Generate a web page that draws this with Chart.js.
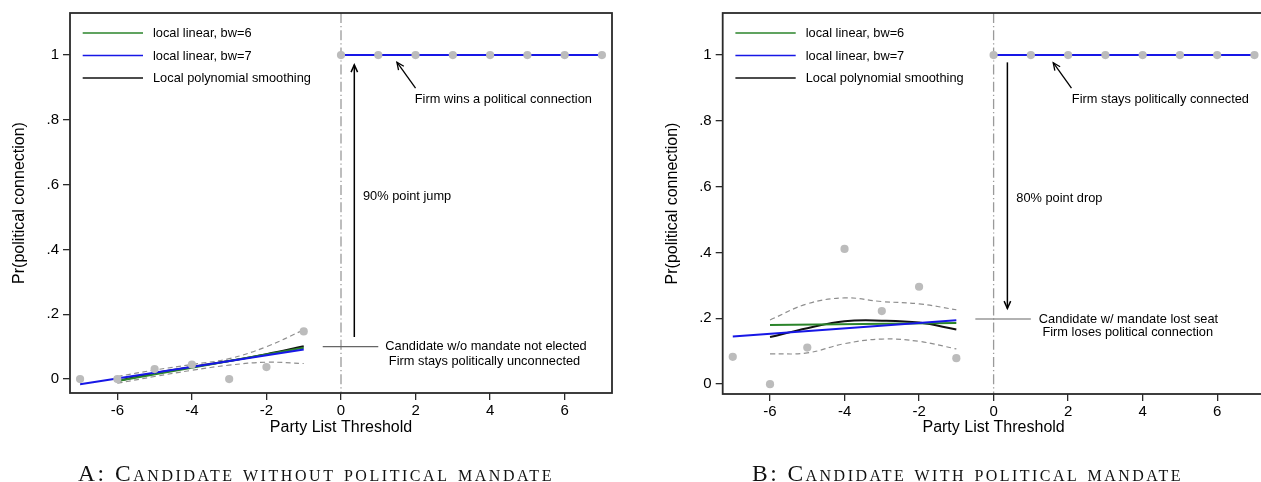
<!DOCTYPE html>
<html><head><meta charset="utf-8">
<script src="https://cdn.jsdelivr.net/npm/chart.js@4.4.0/dist/chart.umd.min.js"></script>
<style>
html,body{margin:0;padding:0;background:#fff;overflow:hidden;width:1261px;height:482px;}
#wrap{position:relative;width:1261px;height:482px;overflow:hidden;background:#fff;}
.panel{position:absolute;top:0;width:640px;height:482px;}
.cap{position:absolute;font-family:"Liberation Serif","DejaVu Serif",serif;font-variant:small-caps;font-size:23.5px;line-height:22px;color:#111;white-space:nowrap;top:462px;}
</style></head><body>
<div id="wrap">
<div class="panel" style="left:0"><canvas id="cA" width="640" height="482"></canvas></div>
<div class="panel" style="left:640px"><canvas id="cB" width="640" height="482"></canvas></div>
<div class="cap" id="capA" style="left:78px">A: Candidate without political mandate</div>
<div class="cap" id="capB" style="left:752px">B: Candidate with political mandate</div>
</div>
<script>
// ---------- data ----------
const xTicks = [-6, -4, -2, 0, 2, 4, 6];
const yTicks = [0, 0.2, 0.4, 0.6, 0.8, 1];
const yTickLabels = ['0', '.2', '.4', '.6', '.8', '1'];
const threshold = 0;
const seriesLabels = ['local linear, bw=6', 'local linear, bw=7', 'Local polynomial smoothing'];

const binsBelow = [-7, -6, -5, -4, -3, -2, -1];
const binsAbove = [0, 1, 2, 3, 4, 5, 6, 7];
const fitBelowX = [-6, -5, -4, -3, -2, -1];
const bw7X = [-7, -1];
const bw6X = [-6, -1];
const fitAboveX = [0, 7];

// Panel A: candidate without political mandate
const A_meanBelow = [0, 0, 0.031, 0.045, 0, 0.037, 0.147];
const A_meanAbove = [1, 1, 1, 1, 1, 1, 1, 1];
const A_bw6 = [-0.006, 0.097];
const A_bw7 = [-0.016, 0.091];
const A_poly = [-0.006, 0.018, 0.037, 0.056, 0.077, 0.101];
const A_ciHigh = [0.008, 0.028, 0.045, 0.063, 0.100, 0.152];
const A_ciLow = [-0.013, 0.008, 0.027, 0.043, 0.052, 0.048];
const A_fitAbove = [1, 1];

// Panel B: candidate with political mandate
const B_meanBelow = [0.083, 0, 0.111, 0.411, 0.222, 0.296, 0.079];
const B_meanAbove = [1, 1, 1, 1, 1, 1, 1, 1];
const B_bw6 = [0.180, 0.186];
const B_bw7 = [0.145, 0.194];
const B_poly = [0.143, 0.170, 0.191, 0.193, 0.187, 0.166];
const B_ciHigh = [0.195, 0.244, 0.262, 0.251, 0.244, 0.226];
const B_ciLow = [0.092, 0.095, 0.123, 0.137, 0.130, 0.107];
const B_fitAbove = [1, 1];

// annotations (data units)
const A_notes = {
  bigArrow: {x: 0.357, from: 0.13, to: 0.97},
  bigText: {x: 0.59, y: 0.565, text: '90% point jump'},
  marker: {y: 0.1, x0: -0.49, x1: 1.0},
  markerText: [{x: 3.89, y: 0.1, text: 'Candidate w/o mandate not elected'},
               {x: 3.85, y: 0.053, text: 'Firm stays politically unconnected'}],
  topArrow: {x0: 2.0, y0: 0.898, x1: 1.5, y1: 0.978},
  topText: {x: 1.98, y: 0.864, text: 'Firm wins a political connection'}
};
const B_notes = {
  bigArrow: {x: 0.37, from: 0.978, to: 0.23},
  bigText: {x: 0.61, y: 0.563, text: '80% point drop'},
  marker: {y: 0.198, x0: -0.49, x1: 1.0},
  markerText: [{x: 3.62, y: 0.198, text: 'Candidate w/ mandate lost seat'},
               {x: 3.60, y: 0.157, text: 'Firm loses political connection'}],
  topArrow: {x0: 2.09, y0: 0.9, x1: 1.6, y1: 0.977},
  topText: {x: 2.1, y: 0.866, text: 'Firm stays politically connected'}
};

// ---------- styling ----------
const FAM = '"Liberation Sans", Arial, sans-serif';
Chart.defaults.font.family = FAM;
const GREEN = '#2b842b', BLUE = '#1717e6', BLACK = '#111111', CI = '#8e8e8e', DOT = '#bcbcbc';

const pts = (xs, ys) => xs.map((x, i) => ({x, y: ys[i]}));

function arrowHead(ctx, x0, y0, x1, y1, len) {
  const a = Math.atan2(y1 - y0, x1 - x0), s = 0.42;
  ctx.beginPath();
  ctx.moveTo(x1 - len * Math.cos(a - s), y1 - len * Math.sin(a - s));
  ctx.lineTo(x1, y1);
  ctx.lineTo(x1 - len * Math.cos(a + s), y1 - len * Math.sin(a + s));
  ctx.stroke();
}

const panelPlugin = {
  id: 'panelDecor',
  beforeDatasetsDraw(chart) {
    const {ctx, chartArea: a, scales: {x}} = chart;
    const px = x.getPixelForValue(threshold);
    ctx.save();
    ctx.strokeStyle = '#9a9a9a'; ctx.lineWidth = 1.3; ctx.setLineDash([10, 3, 1.2, 3]);
    ctx.beginPath(); ctx.moveTo(px, a.top); ctx.lineTo(px, a.bottom); ctx.stroke();
    ctx.restore();
  },
  afterDraw(chart) {
    const {ctx, chartArea: a, scales: {x, y}} = chart;
    const n = chart.options.plugins.panelDecor.notes;
    ctx.save();
    // frame
    ctx.strokeStyle = '#2a2a2a'; ctx.lineWidth = 1.8;
    ctx.strokeRect(a.left, a.top, a.right - a.left, a.bottom - a.top);
    // legend
    const ds = chart.data.datasets;
    const legendItems = [ds[2], ds[3], ds[4]];
    const rows = [20, 42.5, 65];
    ctx.font = '12.8px ' + FAM; ctx.textBaseline = 'middle'; ctx.textAlign = 'left';
    legendItems.forEach((d, i) => {
      const yy = a.top + rows[i];
      ctx.strokeStyle = d.borderColor; ctx.lineWidth = 1.6;
      ctx.beginPath(); ctx.moveTo(a.left + 12.7, yy); ctx.lineTo(a.left + 73, yy); ctx.stroke();
      ctx.fillStyle = '#000'; ctx.fillText(d.label, a.left + 83, yy + 0.5);
    });
    // marker line
    ctx.strokeStyle = '#666'; ctx.lineWidth = 1.2;
    const my = y.getPixelForValue(n.marker.y);
    ctx.beginPath(); ctx.moveTo(x.getPixelForValue(n.marker.x0), my); ctx.lineTo(x.getPixelForValue(n.marker.x1), my); ctx.stroke();
    // big arrow
    ctx.strokeStyle = '#000'; ctx.lineWidth = 1.5;
    const bx = x.getPixelForValue(n.bigArrow.x), by0 = y.getPixelForValue(n.bigArrow.from), by1 = y.getPixelForValue(n.bigArrow.to);
    ctx.beginPath(); ctx.moveTo(bx, by0); ctx.lineTo(bx, by1); ctx.stroke();
    arrowHead(ctx, bx, by0, bx, by1, 8);
    // top arrow
    ctx.lineWidth = 1.3;
    const t = n.topArrow;
    const tx0 = x.getPixelForValue(t.x0), ty0 = y.getPixelForValue(t.y0), tx1 = x.getPixelForValue(t.x1), ty1 = y.getPixelForValue(t.y1);
    ctx.beginPath(); ctx.moveTo(tx0, ty0); ctx.lineTo(tx1, ty1); ctx.stroke();
    arrowHead(ctx, tx0, ty0, tx1, ty1, 8);
    // texts
    ctx.fillStyle = '#000'; ctx.font = '12.8px ' + FAM; ctx.textBaseline = 'middle';
    ctx.textAlign = 'left';
    ctx.fillText(n.bigText.text, x.getPixelForValue(n.bigText.x), y.getPixelForValue(n.bigText.y));
    ctx.fillText(n.topText.text, x.getPixelForValue(n.topText.x), y.getPixelForValue(n.topText.y));
    ctx.textAlign = 'center';
    n.markerText.forEach(m => ctx.fillText(m.text, x.getPixelForValue(m.x), y.getPixelForValue(m.y)));
    ctx.restore();
  }
};

function makePanel(id, d, pad, yMin, yMax) {
  const chartBottom = 482 - pad.bottom - 50;
  const datasets = [
    {label: 'bins below', data: pts(binsBelow, d.meanBelow), order: 0},
    {label: 'bins above', data: pts(binsAbove, d.meanAbove), order: 0},
    {label: seriesLabels[0], data: pts(bw6X, d.bw6), showLine: true, borderColor: GREEN, borderWidth: 2, order: 3},
    {label: seriesLabels[1], data: pts(bw7X, d.bw7), showLine: true, borderColor: BLUE, borderWidth: 2, order: 2},
    {label: seriesLabels[2], data: pts(fitBelowX, d.poly), showLine: true, borderColor: BLACK, borderWidth: 2, tension: 0.4, order: 4},
    {label: 'ci high', data: pts(fitBelowX, d.ciHigh), showLine: true, borderColor: CI, borderWidth: 1.2, borderDash: [5, 3.5], tension: 0.4, order: 5},
    {label: 'ci low', data: pts(fitBelowX, d.ciLow), showLine: true, borderColor: CI, borderWidth: 1.2, borderDash: [5, 3.5], tension: 0.4, order: 5},
    {label: 'poly above', data: pts(fitAboveX, d.fitAbove), showLine: true, borderColor: BLACK, borderWidth: 2, order: 4},
    {label: 'bw6 above', data: pts(fitAboveX, d.fitAbove), showLine: true, borderColor: GREEN, borderWidth: 2, order: 3},
    {label: 'bw7 above', data: pts(fitAboveX, d.fitAbove), showLine: true, borderColor: BLUE, borderWidth: 2, order: 2}
  ];
  datasets.forEach((ds, i) => {
    if (i < 2) { ds.pointRadius = 4.1; ds.backgroundColor = DOT; ds.borderWidth = 0; ds.pointBorderWidth = 0; }
    else { ds.pointRadius = 0; ds.fill = false; }
  });
  return new Chart(document.getElementById(id), {
    type: 'scatter',
    data: {datasets},
    options: {
      responsive: false, animation: false, devicePixelRatio: 1,
      layout: {padding: pad},
      plugins: {legend: {display: false}, tooltip: {enabled: false}, panelDecor: {notes: d.notes}},
      scales: {
        x: {
          type: 'linear', min: -7.27, max: 7.27,
          afterBuildTicks: s => { s.ticks = xTicks.map(v => ({value: v})); },
          afterFit: s => { s.height = 50; },
          ticks: {font: {size: 15}, color: '#000', padding: 2, maxRotation: 0, autoSkip: false, callback: v => String(v)},
          grid: {display: true, drawOnChartArea: false, drawTicks: true, tickLength: 7, color: '#2a2a2a', lineWidth: 1.3},
          border: {display: false},
          title: {display: true, text: 'Party List Threshold', color: '#000', font: {size: 16},
                  padding: {top: 0, bottom: chartBottom + 50 - 9.6 - 427.7}}
        },
        y: {
          type: 'linear', min: yMin, max: yMax,
          afterBuildTicks: s => { s.ticks = yTicks.map(v => ({value: v})); },
          afterFit: s => { s.width = 70; },
          ticks: {font: {size: 15}, color: '#000', padding: 4, autoSkip: false,
                  callback: v => { const i = yTicks.indexOf(v); return i >= 0 ? yTickLabels[i] : ''; }},
          grid: {display: true, drawOnChartArea: false, drawTicks: true, tickLength: 7, color: '#2a2a2a', lineWidth: 1.3},
          border: {display: false},
          title: {display: true, text: 'Pr(political connection)', color: '#000', font: {size: 16}, padding: {top: 10.4, bottom: 0}}
        }
      }
    },
    plugins: [panelPlugin]
  });
}

makePanel('cA', {meanBelow: A_meanBelow, meanAbove: A_meanAbove, bw6: A_bw6, bw7: A_bw7, poly: A_poly,
  ciHigh: A_ciHigh, ciLow: A_ciLow, fitAbove: A_fitAbove, notes: A_notes},
  {left: 0, right: 28, top: 13, bottom: 39}, -0.043, 1.13);
makePanel('cB', {meanBelow: B_meanBelow, meanAbove: B_meanAbove, bw6: B_bw6, bw7: B_bw7, poly: B_poly,
  ciHigh: B_ciHigh, ciLow: B_ciLow, fitAbove: B_fitAbove, notes: B_notes},
  {left: 12.7, right: 15.5, top: 12.7, bottom: 38}, -0.03, 1.128);

// caption widths to match
function fitCaption(id, target) {
  const el = document.getElementById(id);
  const w = el.getBoundingClientRect().width;
  const n = el.textContent.length;
  el.style.letterSpacing = ((target - w) / n) + 'px';
}
fitCaption('capA', 476);
fitCaption('capB', 431);
</script>
</body></html>
